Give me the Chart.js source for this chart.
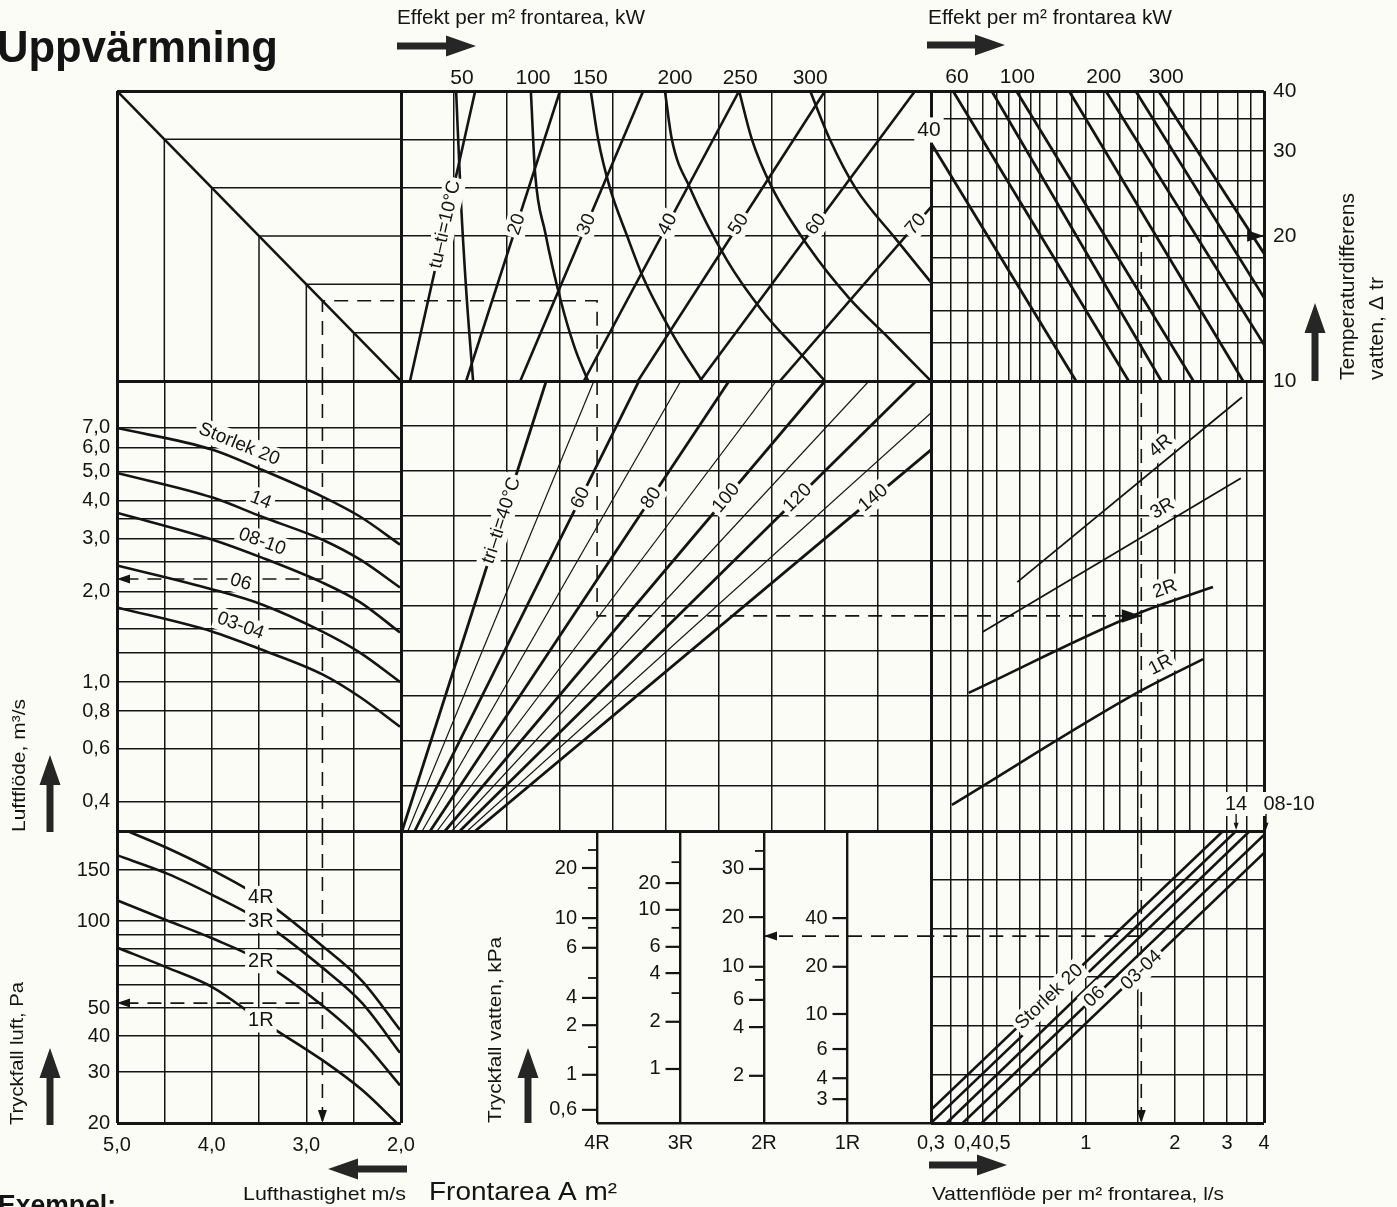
<!DOCTYPE html>
<html lang="sv">
<head>
<meta charset="utf-8">
<title>Uppvärmning</title>
<script src="https://cdn.jsdelivr.net/npm/chart.js@4.4.1/dist/chart.umd.min.js"></script>
<style>
  body { margin: 0; background: #fcfcf6; }
  #root { position: relative; width: 1397px; height: 1207px; overflow: hidden; }
  #root canvas { position: absolute; left: 0; top: 0; }
</style>
</head>
<body>
<div id="root"></div>
<script>
// ---- values ----

// lufthastighet m/s (left column + turning triangle)
const velGrid = [2, 2.5, 3, 3.5, 4, 4.5, 5]
const velTickVals = [5, 4, 3, 2]
const velTicks = ['5,0', '4,0', '3,0', '2,0']

// luftflöde m3/s, one curve per storlek
const flowGrid = [0.4, 0.6, 0.8, 1, 1.25, 1.5, 1.75, 2, 2.5, 3, 3.5, 4, 5, 6, 7]
const flowTickVals = [7, 6, 5, 4, 3, 2, 1, 0.8, 0.6, 0.4]
const flowTicks = ['7,0', '6,0', '5,0', '4,0', '3,0', '2,0', '1,0', '0,8', '0,6', '0,4']
const flowVel = [5, 3.99, 3.47, 2.83, 2.43, 2.01]
const flowS20 = [6.98, 5.91, 5.07, 4.13, 3.54, 2.86]
const flowS14 = [4.95, 4.10, 3.54, 2.97, 2.55, 2.06]
const flowS0810 = [3.65, 2.97, 2.59, 2.14, 1.84, 1.46]
const flowS06 = [2.44, 2.03, 1.81, 1.47, 1.25, 1.00]
const flowS0304 = [1.77, 1.47, 1.28, 1.06, 0.89, 0.71]
const flowNames = ['Storlek 20', '14', '08-10', '06', '03-04']
const flowTagAt = [3.77, 3.54, 3.52, 3.74, 3.75]

// tryckfall luft Pa, one curve per rad
const airDpGrid = [30, 40, 50, 60, 70, 80, 90, 100, 150]
const airDpTickVals = [150, 100, 50, 40, 30, 20]
const airDpVel = [5, 4.47, 3.99, 3.49, 2.83, 2.41, 2.01]
const airDp4R = [212, 179, 150, 121, 82, 62, 42]
const airDp3R = [169, 146, 123, 100.5, 69, 52, 35]
const airDp2R = [118, 100.5, 87, 73, 51, 38.5, 27]
const airDp1R = [81, 69, 59, 45.5, 33, 26, 19.5]
const rowNames = ['4R', '3R', '2R', '1R']

// frontarea: unlabelled 10 step grid of the middle column
const areaGrid = [0, 1, 2, 3, 4, 5, 6, 7, 8, 9, 10]

// effekt per m2 frontarea: tu-ti lines rise, kW curves fall (y = lufthastighet)
const tutiNames = ['tu–ti=10°C', '20', '30', '40', '50', '60', '70']
const tutiFoot = [0.17, 1.23, 2.25, 3.45, 4.47, 5.64, 7.15]
const tutiHeadX = [1.40, 3.00, 4.57, 6.38, 8.00, 9.70, 10]
const tutiHeadV = [5, 5, 5, 5, 5, 5, 3.80]
const kw50 = [[1.04, 5], [1.13, 3.87], [1.23, 2.94], [1.36, 2]]
const kw100 = [[2.45, 5], [2.53, 4.15], [2.72, 3.54], [3.02, 2.82], [3.28, 2.34], [3.53, 2]]
const kw150 = [[3.58, 5], [3.72, 4.5], [3.94, 4.0], [4.26, 3.51], [4.57, 3.07], [5.15, 2.46], [5.68, 2]]
const kw200 = [[4.98, 5], [5.11, 4.5], [5.45, 4.0], [6.15, 3.25], [6.81, 2.73], [7.51, 2.3], [8.0, 2]]
const kw250 = [[6.38, 5], [6.62, 4.5], [7.0, 4.0], [7.70, 3.38], [8.45, 2.86], [9.21, 2.44], [10, 2]]
const kw300 = [[7.72, 5], [8.09, 4.5], [8.57, 4.0], [9.32, 3.48], [10, 3.02]]
const kwTopAt = [1.15, 2.49, 3.57, 5.17, 6.40, 7.72]
const kwTopTicks = ['50', '100', '150', '200', '250', '300']

// tri-ti fan (y = 10 step grid)
const tritiNames = ['tri–ti=40°C', '', '60', '', '80', '', '100', '', '120', '', '140']
const tritiFoot = [0.02, 0.13, 0.26, 0.40, 0.55, 0.68, 0.83, 0.96, 1.11, 1.25, 1.40]
const tritiHeadX = [2.74, 3.64, 4.49, 5.28, 6.19, 7.08, 8.0, 8.83, 9.72, 10, 10]
const tritiHeadY = [10, 10, 10, 10, 10, 10, 10, 10, 10, 9.29, 8.47]

// vattenflöde l/s (right column)
const trGrid = [0.35, 0.4, 0.45, 0.5, 0.55, 0.6, 0.65, 0.7, 0.8, 0.9, 1, 1.15, 1.3, 1.5, 1.7, 1.9, 2.15, 2.45, 2.8, 3.25, 3.6]
const mrGrid = [0.35, 0.4, 0.45, 0.5, 0.6, 0.7, 0.8, 0.9, 1, 1.15, 1.3, 1.5, 1.75, 2, 2.25, 2.5, 3, 3.5]
const brGrid = [0.35, 0.4, 0.45, 0.5, 0.6, 0.7, 0.8, 0.9, 1, 1.5, 2, 2.5, 3, 3.5]
const wfTickVals = [0.3, 0.4, 0.5, 1, 2, 3, 4]
const wfTicks = ['0,3', '0,4', '0,5', '1', '2', '3', '4']

// temperaturdifferens vatten (top right)
const dtrGrid = [10, 12, 14, 16, 18, 20, 23, 26, 30, 35, 40]
const dtrTickVals = [40, 30, 20, 10]
const kwTRAt = [0.367, 0.587, 1.15, 1.87]
const kwTRTicks = ['60', '100', '200', '300']
const trLines = [
  [[0.3, 31.2], [0.927, 10]],
  [[0.356, 40], [1.396, 10]],
  [[0.481, 40], [1.80, 10]],
  [[0.583, 40], [2.31, 10]],
  [[0.878, 40], [3.40, 10]],
  [[1.169, 40], [4, 11.9]],
  [[1.474, 40], [4, 14.9]],
  [[1.761, 40], [4, 18.4]]
]

// rader (middle right, y = 10 step grid)
const mr4R = [[0.587, 5.53], [3.37, 9.64]]
const mr3R = [[0.448, 4.42], [3.34, 7.84]]
const mr2R = [[0.402, 3.07], [1.508, 4.84], [2.69, 5.42]]
const mr1R = [[0.353, 0.58], [1.508, 3.09], [2.49, 3.82]]

// storlek lines (bottom right, y = 6 step grid)
const grid6 = [0, 1, 2, 3, 4, 5, 6]
const br20 = [[0.3, 0.27], [2.91, 6]]
const br14 = [[0.3, 0], [3.22, 6]]
const br0810 = [[0.339, 0], [3.58, 6]]
const br06 = [[0.384, 0], [4, 5.92]]
const br0304 = [[0.445, 0], [4, 5.55]]

// tryckfall vatten kPa, one scale per rad (same 6 step grid)
const wdp4RAt = [5.24, 4.21, 3.60, 2.57, 2.01, 0.99, 0.27]
const wdp4RTicks = ['20', '10', '6', '4', '2', '1', '0,6']
const wdp4RMinor = [5.61, 4.83, 4.01, 2.98, 1.56]
const wdp3RAt = [4.93, 4.38, 3.62, 3.08, 2.08, 1.11]
const wdp3RTicks = ['20', '10', '6', '4', '2', '1']
const wdp3RMinor = [5.36, 4.01, 2.67]
const wdp2RAt = [5.22, 4.23, 3.21, 2.53, 1.97, 0.97]
const wdp2RTicks = ['30', '20', '10', '6', '4', '2']
const wdp2RMinor = [5.59, 2.94]
const wdp1RAt = [4.21, 3.21, 2.24, 1.52, 0.92, 0.49]
const wdp1RTicks = ['40', '20', '10', '6', '4', '3']
const wdp1RMinor = []

// worked example (dashed path)
const exVel = 2.83
const exFlow = 2.2
const exAirDp = 52
const exArea = 3.70
const exPower = 4.78
const exWater = 1.54
const exDtr = 20
const exWaterDp = 3.84

// ---- drawing ----
const INK = '#141414'
const PAPER = '#fcfcf6'
const FAM = '"Liberation Sans", Arial, Helvetica, sans-serif'
const W = 1397
const H = 1207
const COL = [117, 401, 931, 1264]
const ROW = [91, 381, 831, 1123]
const BC_LEFT = 597
const lw = { grid: 1.5, edge: 3, curve: 2.6, heavy: 2.8, thin: 1.2 }
const dash = { borderDash: [14, 9], borderWidth: 1.6 }

Chart.defaults.font.family = FAM
Chart.defaults.animation = false
Chart.defaults.events = []
Chart.defaults.plugins.legend.display = false
Chart.defaults.plugins.tooltip.enabled = false

const app = document.getElementById('root')

function say(ctx, s, x, y, o = {}) {
  const size = o.size || 19
  ctx.save()
  ctx.font = (o.bold ? 'bold ' : '') + size + 'px ' + FAM
  ctx.textAlign = o.align || 'left'
  ctx.textBaseline = o.base || 'alphabetic'
  ctx.translate(x, y)
  if (o.rot) ctx.rotate(o.rot)
  const m = ctx.measureText(s).width
  if (o.w) ctx.scale(o.w / m, 1)
  if (o.bg) {
    ctx.fillStyle = PAPER
    ctx.fillRect(-m / 2 - 3, -size * 0.6, m + 6, size * 1.2)
  }
  ctx.fillStyle = o.color || INK
  ctx.fillText(s, 0, 0)
  ctx.restore()
}

function arrowHead(ctx, p, dir, s) {
  const L = 13 * s
  const hw = 4.5 * s
  const d = { left: [-1, 0], right: [1, 0], up: [0, -1], down: [0, 1] }[dir]
  ctx.save()
  ctx.fillStyle = INK
  ctx.beginPath()
  ctx.moveTo(p.x, p.y)
  ctx.lineTo(p.x - d[0] * L - d[1] * hw, p.y - d[1] * L + d[0] * hw)
  ctx.lineTo(p.x - d[0] * L + d[1] * hw, p.y - d[1] * L - d[0] * hw)
  ctx.closePath()
  ctx.fill()
  ctx.restore()
}

function bigArrow(ctx, x0, y0, x1, y1) {
  const shaft = 7, head = 21, headLen = 30
  const len = Math.hypot(x1 - x0, y1 - y0)
  const ux = (x1 - x0) / len, uy = (y1 - y0) / len
  const nx = -uy, ny = ux
  const bx = x1 - ux * headLen, by = y1 - uy * headLen
  ctx.save()
  ctx.fillStyle = '#262626'
  ctx.beginPath()
  ctx.moveTo(x0 + nx * shaft / 2, y0 + ny * shaft / 2)
  ctx.lineTo(bx + nx * shaft / 2, by + ny * shaft / 2)
  ctx.lineTo(bx + nx * head / 2, by + ny * head / 2)
  ctx.lineTo(x1, y1)
  ctx.lineTo(bx - nx * head / 2, by - ny * head / 2)
  ctx.lineTo(bx - nx * shaft / 2, by - ny * shaft / 2)
  ctx.lineTo(x0 - nx * shaft / 2, y0 - ny * shaft / 2)
  ctx.closePath()
  ctx.fill()
  ctx.restore()
}

// put a label on a curve, at an x value (at) or a y value (atY)
function tagCurve(chart, ctx, pts, t) {
  const useY = t.atY !== undefined
  const target = useY ? chart.scales.y.getPixelForValue(t.atY) : chart.scales.x.getPixelForValue(t.at)
  const key = useY ? 'y' : 'x'
  let k = 0
  for (; k < pts.length - 2; k++) {
    if ((target - pts[k][key]) * (target - pts[k + 1][key]) <= 0) break
  }
  const a = pts[k], b = pts[k + 1]
  const span = b[key] - a[key]
  const f = span ? (target - a[key]) / span : 0
  let x = a.x + (b.x - a.x) * f
  let y = a.y + (b.y - a.y) * f
  let ang = t.flat ? 0 : Math.atan2(b.y - a.y, b.x - a.x)
  if (ang > Math.PI / 2) ang -= Math.PI
  if (ang < -Math.PI / 2) ang += Math.PI
  const off = t.off || 0
  x += Math.sin(ang) * off
  y -= Math.cos(ang) * off
  say(ctx, t.text, x, y, { size: t.size || 19, align: 'center', base: 'middle', rot: ang, bg: true })
}

const curveMarks = {
  id: 'curveMarks',
  afterDatasetsDraw(chart) {
    const ctx = chart.ctx
    chart.data.datasets.forEach((ds, i) => {
      const pts = chart.getDatasetMeta(i).data
      if (!pts.length) return
      if (ds.arrow) arrowHead(ctx, pts[pts.length - 1], ds.arrow, ds.arrowSize || 1)
      if (ds.tag) tagCurve(chart, ctx, pts, ds.tag)
    })
  }
}

function axis(type, min, max, grid, o = {}) {
  return {
    type, min, max, bounds: 'data', reverse: !!o.reverse,
    afterBuildTicks: s => { s.ticks = grid.map(v => ({ value: v })) },
    ticks: { display: false },
    border: { display: false },
    grid: {
      drawTicks: false,
      color: INK,
      lineWidth: c => o.lw || ((c.tick && (c.tick.value === min || c.tick.value === max)) ? lw.edge : lw.grid)
    }
  }
}

function path(pts, o = {}) {
  return Object.assign({
    data: pts.map(p => ({ x: p[0], y: p[1] })),
    showLine: true, borderColor: INK, borderWidth: lw.curve,
    pointRadius: 0, pointHoverRadius: 0, fill: false, tension: 0
  }, o)
}

function zip(xs, ys) {
  return xs.map((x, i) => [x, ys[i]])
}

function makeChart(box, scales, datasets, decor) {
  const canvas = document.createElement('canvas')
  canvas.width = W
  canvas.height = H
  app.appendChild(canvas)
  return new Chart(canvas.getContext('2d'), {
    type: 'scatter',
    data: { datasets },
    options: {
      responsive: false,
      devicePixelRatio: 1,
      layout: { padding: { left: box[0], top: box[1], right: W - box[2], bottom: H - box[3] } },
      scales
    },
    plugins: [curveMarks, {
      id: 'decor',
      afterDraw: c => { if (decor) decor(c, c.ctx, c.scales.x, c.scales.y) }
    }]
  })
}

function pageDecor(ctx) {
  say(ctx, 'Uppvärmning', -3, 62, { size: 45, bold: true, w: 281 })
  say(ctx, 'Effekt per m² frontarea, kW', 397, 24, { size: 20, w: 248 })
  say(ctx, 'Effekt per m² frontarea kW', 928, 24, { size: 20, w: 244 })
  bigArrow(ctx, 397, 46, 476, 46)
  bigArrow(ctx, 927, 45, 1005, 45)
  say(ctx, 'Temperaturdifferens', 1354, 380, { size: 20, rot: -Math.PI / 2, w: 187 })
  say(ctx, 'vatten, Δ tr', 1383, 380, { size: 20, rot: -Math.PI / 2, w: 103 })
  bigArrow(ctx, 1315, 381, 1315, 303)
  say(ctx, 'Luftflöde, m³/s', 25, 832, { rot: -Math.PI / 2, w: 133 })
  bigArrow(ctx, 50, 832, 50, 755)
  say(ctx, 'Tryckfall luft, Pa', 23, 1125, { rot: -Math.PI / 2, w: 143 })
  bigArrow(ctx, 50, 1125, 50, 1048)
  bigArrow(ctx, 407, 1169, 328, 1169)
  say(ctx, 'Lufthastighet m/s', 243, 1200, { w: 163 })
  say(ctx, 'Frontarea A m²', 429, 1200, { size: 26, w: 188 })
  say(ctx, 'Tryckfall vatten, kPa', 501, 1123, { rot: -Math.PI / 2, w: 186 })
  bigArrow(ctx, 528, 1123, 528, 1048)
  bigArrow(ctx, 929, 1165, 1007, 1165)
  say(ctx, 'Vattenflöde per m² frontarea, l/s', 932, 1200, { w: 292 })
  say(ctx, 'Exempel:', -2, 1214, { size: 27, bold: true, w: 118 })
}

// top left: turning triangle
makeChart([COL[0], ROW[0], COL[1], ROW[1]], {
  x: axis('linear', 2, 5, [2, 5], { reverse: true }),
  y: axis('linear', 2, 5, [2, 5])
}, [
  path([[5, 5], [2, 2]]),
  ...velGrid.slice(1, -1).map(v => path([[v, 2], [v, v], [2, v]], { borderWidth: lw.grid })),
  path([[exVel, 2], [exVel, exVel], [2, exVel]], dash)
], (c, ctx) => pageDecor(ctx))

// top middle: effekt per m2
const kwCurves = [kw50, kw100, kw150, kw200, kw250, kw300]
makeChart([COL[1], ROW[0], COL[2], ROW[1]], {
  x: axis('linear', 0, 10, areaGrid),
  y: axis('linear', 2, 5, velGrid)
}, [
  ...tutiFoot.map((f, i) => path([[f, 2], [tutiHeadX[i], tutiHeadV[i]]], { tag: { text: tutiNames[i], atY: 3.62 } })),
  ...kwCurves.map(k => path(k, { cubicInterpolationMode: 'monotone' })),
  path([[0, exVel], [exArea, exVel], [exArea, 2]], dash)
], (c, ctx, sx) => {
  kwTopAt.forEach((v, i) => say(ctx, kwTopTicks[i], sx.getPixelForValue(v), c.chartArea.top - 7, { size: 21, align: 'center' }))
})

// top right: temperaturdifferens vatten
makeChart([COL[2], ROW[0], COL[3], ROW[1]], {
  x: axis('logarithmic', 0.3, 4, [0.3, ...trGrid, 4]),
  y: axis('logarithmic', 10, 40, dtrGrid)
}, [
  ...trLines.map(l => path(l, { borderWidth: lw.heavy })),
  path([[exWater, 10], [exWater, exDtr], [4, exDtr]], Object.assign({}, dash, { arrow: 'right', arrowSize: 1.3 }))
], (c, ctx, sx, sy) => {
  const a = c.chartArea
  kwTRAt.forEach((v, i) => say(ctx, kwTRTicks[i], sx.getPixelForValue(v), a.top - 8, { size: 21, align: 'center' }))
  dtrTickVals.forEach(v => say(ctx, String(v), a.right + 9, sy.getPixelForValue(v), { size: 21, base: 'middle' }))
  say(ctx, '40', a.left - 2, a.top + 39, { size: 21, align: 'center', base: 'middle', bg: true })
})

// middle left: luftflöde
const flowCurves = [flowS20, flowS14, flowS0810, flowS06, flowS0304]
makeChart([COL[0], ROW[1], COL[1], ROW[2]], {
  x: axis('linear', 2, 5, velGrid, { reverse: true }),
  y: axis('logarithmic', 0.32, 10, [0.32, ...flowGrid, 10])
}, [
  ...flowCurves.map((f, i) => path(zip(flowVel, f), {
    cubicInterpolationMode: 'monotone',
    tag: { text: flowNames[i], at: flowTagAt[i], off: 15 }
  })),
  path([[exVel, 10], [exVel, 0.32]], dash),
  path([[exVel, exFlow], [5, exFlow]], Object.assign({}, dash, { arrow: 'left' }))
], (c, ctx, sx, sy) => {
  flowTickVals.forEach((v, i) => say(ctx, flowTicks[i], c.chartArea.left - 7, sy.getPixelForValue(v), { size: 20, align: 'right', base: 'middle' }))
})

// middle: tri-ti fan
makeChart([COL[1], ROW[1], COL[2], ROW[2]], {
  x: axis('linear', 0, 10, areaGrid),
  y: axis('linear', 0, 10, areaGrid)
}, [
  ...tritiFoot.map((f, i) => path([[f, 0], [tritiHeadX[i], tritiHeadY[i]]], {
    borderWidth: i % 2 ? lw.thin : lw.heavy,
    tag: tritiNames[i] ? { text: tritiNames[i], atY: i ? 7.4 : 6.9 } : null
  })),
  path([[exArea, 10], [exArea, exPower], [10, exPower]], dash)
])

// middle right: rader
makeChart([COL[2], ROW[1], COL[3], ROW[2]], {
  x: axis('logarithmic', 0.3, 4, [0.3, ...mrGrid, 4]),
  y: axis('linear', 0, 10, areaGrid)
}, [
  path(mr4R, { borderWidth: 1.8, tag: { text: '4R', at: 1.92, off: 14 } }),
  path(mr3R, { borderWidth: 1.8, tag: { text: '3R', at: 1.92, off: 14 } }),
  path(mr2R, { cubicInterpolationMode: 'monotone', tag: { text: '2R', at: 1.92, off: 14 } }),
  path(mr1R, { cubicInterpolationMode: 'monotone', tag: { text: '1R', at: 1.88, off: 14 } }),
  path([[exWater, 0], [exWater, 10]], dash),
  path([[0.3, exPower], [exWater, exPower]], Object.assign({}, dash, { arrow: 'right', arrowSize: 1.5 }))
])

// bottom left: tryckfall luft
const airCurves = [airDp4R, airDp3R, airDp2R, airDp1R]
makeChart([COL[0], ROW[2], COL[1], ROW[3]], {
  x: axis('linear', 2, 5, velGrid, { reverse: true }),
  y: axis('logarithmic', 20, 205, [20, ...airDpGrid, 205])
}, [
  ...airCurves.map((d, i) => path(zip(airDpVel, d), {
    cubicInterpolationMode: 'monotone',
    tag: { text: rowNames[i], at: 3.48, flat: true, size: 20 }
  })),
  path([[exVel, 205], [exVel, 20]], Object.assign({}, dash, { arrow: 'down' })),
  path([[exVel, exAirDp], [5, exAirDp]], Object.assign({}, dash, { arrow: 'left' }))
], (c, ctx, sx, sy) => {
  const a = c.chartArea
  airDpTickVals.forEach(v => say(ctx, String(v), a.left - 7, sy.getPixelForValue(v), { size: 20, align: 'right', base: 'middle' }))
  velTickVals.forEach((v, i) => say(ctx, velTicks[i], sx.getPixelForValue(v), a.bottom + 28, { size: 20, align: 'center' }))
})

// bottom middle: tryckfall vatten scales
const wdpCols = [
  [wdp4RAt, wdp4RTicks, wdp4RMinor],
  [wdp3RAt, wdp3RTicks, wdp3RMinor],
  [wdp2RAt, wdp2RTicks, wdp2RMinor],
  [wdp1RAt, wdp1RTicks, wdp1RMinor]
]
makeChart([BC_LEFT, ROW[2], COL[2], ROW[3]], {
  x: axis('linear', 0, 4, [0, 1, 2, 3, 4], { lw: 2.4 }),
  y: axis('linear', 0, 6, [0, 6], { lw: 2.6 })
}, [
  path([[4, exWaterDp], [2, exWaterDp]], Object.assign({}, dash, { arrow: 'left' }))
], (c, ctx, sx, sy) => {
  const a = c.chartArea
  wdpCols.forEach((col, k) => {
    const px = sx.getPixelForValue(k)
    ctx.save()
    ctx.strokeStyle = INK
    col[0].forEach((v, i) => {
      const py = sy.getPixelForValue(v)
      ctx.lineWidth = 2.2
      ctx.beginPath()
      ctx.moveTo(px - 15, py)
      ctx.lineTo(px, py)
      ctx.stroke()
      say(ctx, col[1][i], px - 20, py, { size: 20, align: 'right', base: 'middle' })
    })
    col[2].forEach(v => {
      const py = sy.getPixelForValue(v)
      ctx.lineWidth = 1.8
      ctx.beginPath()
      ctx.moveTo(px - 9, py)
      ctx.lineTo(px, py)
      ctx.stroke()
    })
    ctx.restore()
    say(ctx, rowNames[k], px, a.bottom + 26, { size: 20, align: 'center' })
  })
})

// bottom right: vattenflöde per storlek
makeChart([COL[2], ROW[2], COL[3], ROW[3]], {
  x: axis('logarithmic', 0.3, 4, [0.3, ...brGrid, 4]),
  y: axis('linear', 0, 6, grid6)
}, [
  path(br20, { tag: { text: 'Storlek 20', atY: 2.59 } }),
  path(br14),
  path(br0810),
  path(br06, { tag: { text: '06', atY: 2.59 } }),
  path(br0304, { tag: { text: '03-04', atY: 3.14 } }),
  path([[exWater, exWaterDp], [0.3, exWaterDp]], dash),
  path([[exWater, 6], [exWater, 0]], Object.assign({}, dash, { arrow: 'down' }))
], (c, ctx, sx) => {
  const a = c.chartArea
  wfTickVals.forEach((v, i) => say(ctx, wfTicks[i], sx.getPixelForValue(v), a.bottom + 26, { size: 20, align: 'center' }))
  const p14 = sx.getPixelForValue(br14[1][0])
  say(ctx, '14', p14, a.top - 27, { size: 20, align: 'center', base: 'middle', bg: true })
  say(ctx, '08-10', a.right + 25, a.top - 27, { size: 20, align: 'center', base: 'middle', bg: true })
  const stems = [p14, a.right + 2]
  stems.forEach(x => {
    ctx.save()
    ctx.strokeStyle = INK
    ctx.lineWidth = 1.4
    ctx.beginPath()
    ctx.moveTo(x, a.top - 17)
    ctx.lineTo(x, a.top - 6)
    ctx.stroke()
    ctx.restore()
    arrowHead(ctx, { x, y: a.top - 1 }, 'down', 0.55)
  })
})
</script>
</body>
</html>
